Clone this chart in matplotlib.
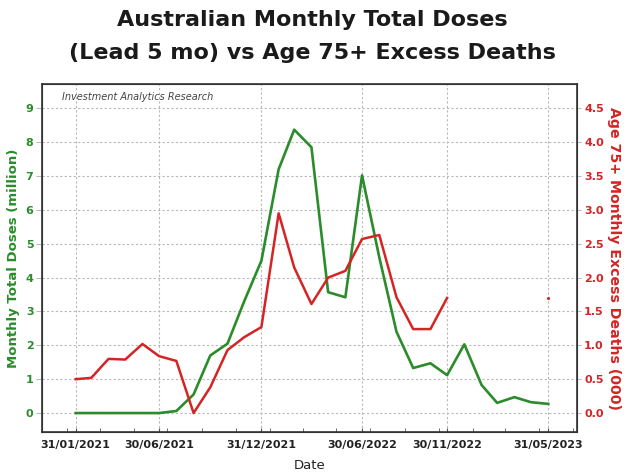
import numpy as np
import pandas as pd
import matplotlib
matplotlib.use("Agg")
import matplotlib.pyplot as plt
import matplotlib.dates as mdates

# month-end dates, Jan 2021 .. May 2023
dates = pd.date_range("2021-01-31", "2023-05-31", freq="ME")

# monthly total doses (million), lead 5 months
doses = [0, 0, 0, 0, 0, 0, 0.06, 0.55, 1.7, 2.05, 3.3, 4.5,
         7.2, 8.37, 7.85, 3.57, 3.42, 7.02, 4.6, 2.4, 1.33, 1.47,
         1.12, 2.03, 0.83, 0.3, 0.47, 0.32, 0.27]

# age 75+ monthly excess deaths (000)
deaths = [0.5, 0.52, 0.8, 0.79, 1.02, 0.84, 0.77, 0.0, 0.38, 0.93,
          1.12, 1.27, 2.95, 2.15, 1.61, 2.0, 2.1, 2.57, 2.63, 1.71,
          1.24, 1.24, 1.7, np.nan, np.nan, np.nan, np.nan, np.nan, 1.7]

tick_dates = ["2021-01-31", "2021-06-30", "2021-12-31",
              "2022-06-30", "2022-11-30", "2023-05-31"]
tick_labels = ["31/01/2021", "30/06/2021", "31/12/2021",
               "30/06/2022", "30/11/2022", "31/05/2023"]

green = "#2a8c2a"
red = "#d42424"

fig = plt.figure(figsize=(6.24, 4.75), dpi=100)
ax = fig.add_axes([0.067, 0.0905, 0.858, 0.732])
ax2 = ax.twinx()

ax.plot(dates, doses, color=green, lw=1.9, zorder=3)
ax2.plot(dates, deaths, color=red, lw=1.8, zorder=3)
# isolated last point of the deaths series
ax2.plot(dates[-1:], deaths[-1:], ".", color=red, ms=2.5)

ax.set_xlim(pd.Timestamp("2020-12-01"), pd.Timestamp("2023-07-22"))
ax.set_ylim(-0.56, 9.71)
ax2.set_ylim(-0.28, 4.855)

ax.set_xticks(pd.to_datetime(tick_dates))
ax.set_xticklabels(tick_labels, fontsize=8, fontweight="bold", color="#222222")
ax.xaxis.set_minor_locator(mdates.MonthLocator(bymonth=[1, 3, 5, 7, 9, 11], bymonthday=15))
ax.tick_params(axis="x", which="minor", length=3, direction="in", color="#555555")
ax.tick_params(axis="x", which="major", length=3, direction="in", color="#555555", pad=6)

ax.set_yticks(range(0, 10))
ax.tick_params(axis="y", colors=green, labelsize=8, length=4, width=0.6, pad=2)
ax.tick_params(axis="y", color="#aaaaaa")
for t in ax.get_yticklabels():
    t.set_fontweight("bold")
ax2.set_yticks(np.arange(0, 4.6, 0.5))
ax2.set_yticklabels([f"{v:.1f}" for v in np.arange(0, 4.6, 0.5)])
ax2.tick_params(axis="y", colors=red, labelsize=8, length=3, width=0.6, pad=2)
ax2.tick_params(axis="y", color="#aaaaaa")
for t in ax2.get_yticklabels():
    t.set_fontweight("bold")

ax.grid(True, which="major", color="#b8b8b8", linestyle=(0, (2, 2)), lw=0.8)
ax.set_axisbelow(True)

for side in ["left", "right", "top", "bottom"]:
    ax.spines[side].set_color("#333333")
    ax2.spines[side].set_color("#333333")
    ax2.spines[side].set_linewidth(1.2)

ax.set_ylabel("Monthly Total Doses (million)", color=green, fontsize=9.5,
              fontweight="bold", labelpad=4)
ax2.set_ylabel("Age 75+ Monthly Excess Deaths (000)", color=red, fontsize=10.2,
               fontweight="bold", rotation=-90, labelpad=12)
ax.set_xlabel("Date", fontsize=9.5, color="#222222", labelpad=6)

ax.text(0.037, 0.963, "Investment Analytics Research", transform=ax.transAxes,
        fontsize=7, style="italic", color="#444444", va="center")

fig.text(0.5, 0.957, "Australian Monthly Total Doses", ha="center", va="center",
         fontsize=16, fontweight="bold", color="#1a1a1a")
fig.text(0.5, 0.889, "(Lead 5 mo) vs Age 75+ Excess Deaths", ha="center",
         va="center", fontsize=16, fontweight="bold", color="#1a1a1a")

fig.savefig("out.png", dpi=100)
